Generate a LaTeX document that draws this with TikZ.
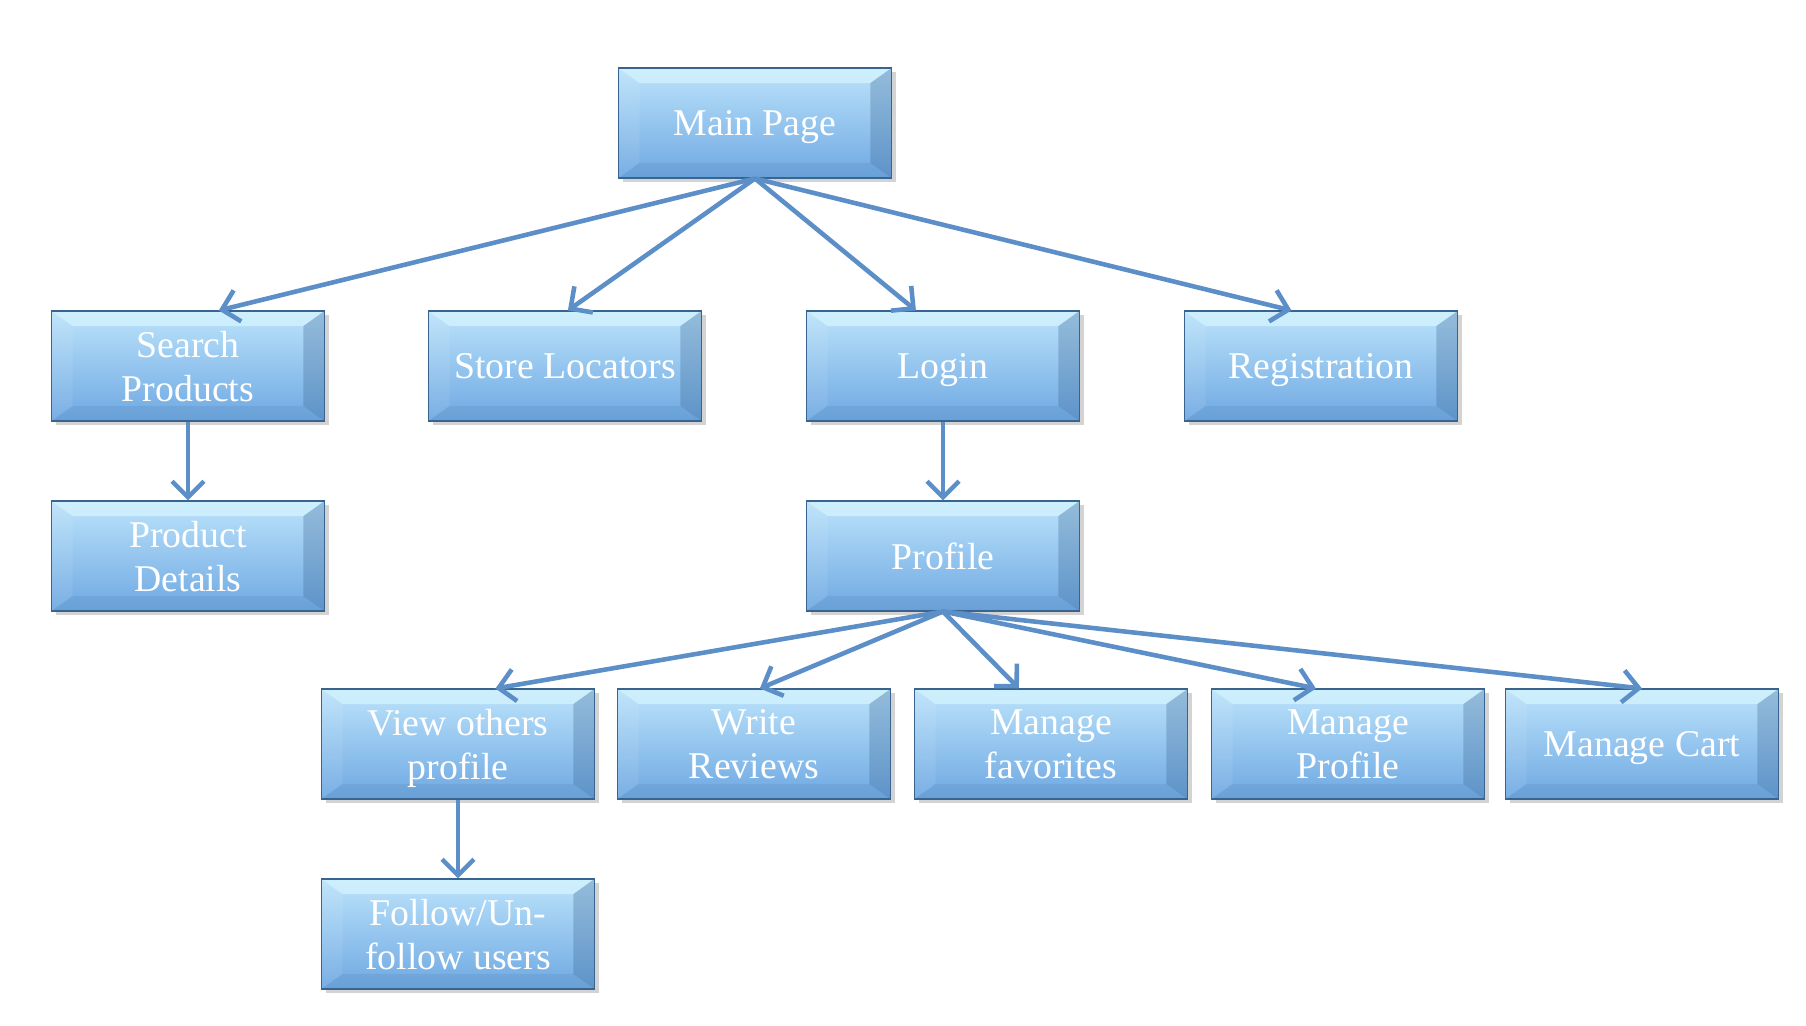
\documentclass[tikz,border=0pt]{standalone}
\usepackage{fontspec}
\setmainfont{Liberation Serif}
\usetikzlibrary{positioning,calc,shadows,arrows.meta}
\definecolor{boxtop}{HTML}{BCE3FB}
\definecolor{boxbot}{HTML}{6EA8E2}
\definecolor{boxedge}{HTML}{3A6490}
\definecolor{bevellight}{HTML}{D6F5FE}
\definecolor{arrowblue}{HTML}{5C8FC8}
\newcommand{\bv}{0.42cm}
\tikzstyle{page}=[rectangle,minimum width=5.46cm,minimum height=2.2cm,inner sep=1mm,
  align=center,text=white,font=\fontsize{21.5}{25}\selectfont,text depth=0pt,
  top color=boxtop,bottom color=boxbot,
  drop shadow={shadow xshift=2.5pt,shadow yshift=-2.5pt,opacity=0.35},
  path picture={
    \coordinate (nw) at (path picture bounding box.north west);
    \coordinate (ne) at (path picture bounding box.north east);
    \coordinate (sw) at (path picture bounding box.south west);
    \coordinate (se) at (path picture bounding box.south east);
    \fill[bevellight,opacity=0.7] (nw) -- (ne) -- ([shift={(-\bv,-0.3cm)}]ne) -- ([shift={(\bv,-0.3cm)}]nw) -- cycle;
    \fill[white,opacity=0.08] (nw) -- ([shift={(\bv,-0.3cm)}]nw) -- ([shift={(\bv,0.3cm)}]sw) -- (sw) -- cycle;
    \fill[boxedge,opacity=0.3] (ne) -- ([shift={(-\bv,-0.3cm)}]ne) -- ([shift={(-\bv,0.3cm)}]se) -- (se) -- cycle;
    \fill[boxedge,opacity=0.12] (sw) -- ([shift={(\bv,0.3cm)}]sw) -- ([shift={(-\bv,0.3cm)}]se) -- (se) -- cycle;
  },
  draw=boxedge,line width=0.6pt]
\tikzstyle{link}=[draw=arrowblue,line width=2.6pt,-{Straight Barb[length=3.2mm,width=6.4mm]}]

\begin{document}
\begin{tikzpicture}[x=0.02cm,y=-0.02cm]
  \useasboundingbox (0,0) rectangle (1806,1026);

  \node [page] at (755, 123) (main) {Main Page};

  \node [page] at (188, 366) (search) {Search\\Products};
  \node [page] at (565, 366) (store) {Store Locators};
  \node [page] at (943, 366) (login) {Login};
  \node [page] at (1321, 366) (reg) {Registration};

  \node [page] at (188, 556) (details) {Product\\Details};
  \node [page] at (943, 556) (profile) {Profile};

  \node [page] at (458, 744) (others) {View others\\profile};
  \node [page] at (754, 744) (reviews) {Write\\Reviews};
  \node [page] at (1051, 744) (favs) {Manage\\favorites};
  \node [page] at (1348, 744) (manprof) {Manage\\Profile};
  \node [page] at (1642, 744) (cart) {Manage Cart};

  \node [page] at (458, 934) (follow) {Follow/Un-\\follow users};

  \draw [link] (main.south) -- (search.61);
  \draw [link] (main.south) -- (store.87);
  \draw [link] (main.south) -- (login.116);
  \draw [link] (main.south) -- (reg.118);
  \draw [link] (search) -- (details);
  \draw [link] (login) -- (profile);
  \draw [link] (profile.south) -- (others.56);
  \draw [link] (profile.south) -- (reviews.84);
  \draw [link] (profile.south) -- (favs.120);
  \draw [link] (profile.south) -- (manprof.120);
  \draw [link] (profile.south) -- (cart.90);
  \draw [link] (others) -- (follow);
\end{tikzpicture}
\end{document}
